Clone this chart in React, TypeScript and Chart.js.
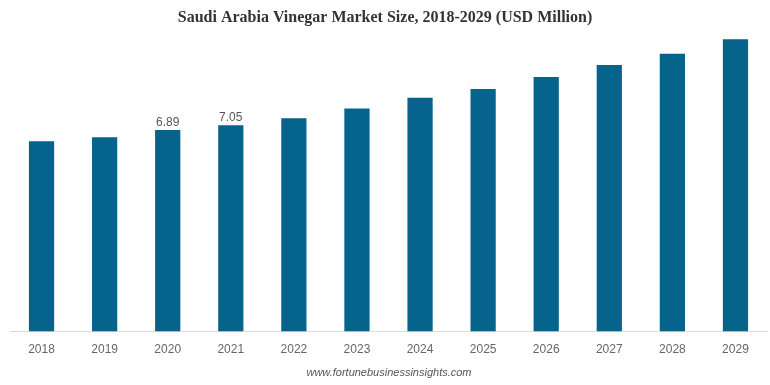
import React, { useEffect, useRef } from "react";
import { Chart, registerables } from "chart.js";

Chart.register(...registerables);

const categories = ["2018", "2019", "2020", "2021", "2022", "2023", "2024", "2025", "2026", "2027", "2028", "2029"];
const marketSize = [6.5, 6.64, 6.89, 7.05, 7.29, 7.62, 7.99, 8.29, 8.7, 9.11, 9.49, 9.99];
const labelledYears = ["2020", "2021"];
const titleText = "Saudi Arabia Vinegar Market Size, 2018-2029 (USD Million)";
const sourceText = "www.fortunebusinessinsights.com";

const overlayPlugin = {
  id: "overlay",
  afterDraw(chart: any) {
    const ctx = chart.ctx;
    ctx.save();
    // title
    ctx.font = "bold 16px 'Liberation Serif', 'Times New Roman', serif";
    ctx.fillStyle = "#333333";
    ctx.textAlign = "center";
    ctx.textBaseline = "middle";
    ctx.fillText(titleText, 385, 18);
    // source
    ctx.font = "italic 11px 'Liberation Sans', Arial, sans-serif";
    ctx.fillStyle = "#555555";
    ctx.fillText(sourceText, 389, 373);
    // value labels
    const meta = chart.getDatasetMeta(0);
    ctx.font = "12px 'Liberation Sans', Arial, sans-serif";
    ctx.fillStyle = "#555555";
    ctx.textBaseline = "alphabetic";
    meta.data.forEach((bar: any, i: number) => {
      if (labelledYears.includes(categories[i])) {
        ctx.fillText(marketSize[i].toFixed(2), bar.x, bar.y - 4);
      }
    });
    ctx.restore();
  },
};

export default function App() {
  const ref = useRef<HTMLCanvasElement>(null);
  useEffect(() => {
    document.body.style.margin = "0";
    const chart = new Chart(ref.current!, {
      type: "bar",
      data: {
        labels: categories,
        datasets: [
          {
            data: marketSize,
            backgroundColor: "#06638B",
            borderWidth: 0,
            categoryPercentage: 0.8,
            barPercentage: 0.5,
          },
        ],
      },
      options: {
        animation: false,
        responsive: false,
        layout: { padding: { top: 33, left: 10, right: 3, bottom: 17 } },
        plugins: { legend: { display: false }, tooltip: { enabled: false }, title: { display: false } },
        scales: {
          x: {
            grid: { display: false, drawTicks: false },
            border: { display: true, color: "#dddddd", width: 1 },
            ticks: {
              color: "#666666",
              padding: 11,
              font: { size: 12, family: "'Liberation Sans', Arial, sans-serif" },
            },
          },
          y: { display: false, min: 0, max: 10.2 },
        },
      },
      plugins: [overlayPlugin],
    });
    return () => chart.destroy();
  }, []);
  return <canvas ref={ref} width={770} height={385} style={{ display: "block" }} />;
}
